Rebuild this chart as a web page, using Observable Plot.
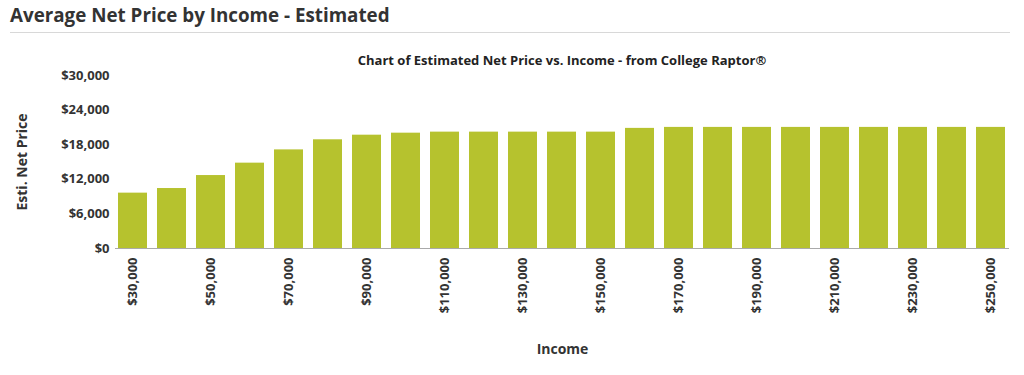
<!DOCTYPE html>
<html>
<head>
<meta charset="utf-8">
<script src="https://cdn.jsdelivr.net/npm/d3@7"></script>
<script src="https://cdn.jsdelivr.net/npm/@observablehq/plot@0.6"></script>
<style>
  html, body { margin: 0; padding: 0; background: #fff; width: 1024px; height: 375px; overflow: hidden; font-family: "Open Sans", sans-serif; }
  #header { position: absolute; left: 10px; top: 2px; font-size: 18.8px; font-weight: bold; color: #333; }
  #rule { position: absolute; left: 10px; top: 32px; width: 1000px; height: 0; border-top: 1px solid #d8d8d8; }
  #subtitle { position: absolute; left: 0; width: 1124px; top: 51px; text-align: center; font-size: 13px; font-weight: bold; color: #222; }
  #chart { position: absolute; left: 0; top: 40px; }
</style>
</head>
<body>
<div id="header">Average Net Price by Income - Estimated</div>
<div id="rule"></div>
<div id="chart"></div>
<div id="subtitle">Chart of Estimated Net Price vs. Income - from College Raptor®</div>
<script>
const incomes = [30000, 40000, 50000, 60000, 70000, 80000, 90000, 100000, 110000, 120000, 130000, 140000, 150000, 160000, 170000, 180000, 190000, 200000, 210000, 220000, 230000, 240000, 250000];
const netPrices = [9600, 10400, 12650, 14800, 17100, 18850, 19650, 20000, 20180, 20180, 20180, 20180, 20180, 20830, 21000, 21000, 21000, 21000, 21000, 21000, 21000, 21000, 21000];
const xTickLabels = [30000, 50000, 70000, 90000, 110000, 130000, 150000, 170000, 190000, 210000, 230000, 250000];
const yTicks = [0, 6000, 12000, 18000, 24000, 30000];
const yTitle = "Esti. Net Price";
const xTitle = "Income";

const data = incomes.map((d, i) => ({income: d, price: netPrices[i]}));
const fmt = d3.format("$,");

const chart = Plot.plot({
  width: 1024,
  height: 335,
  marginTop: 35,
  marginBottom: 127,
  marginLeft: 115,
  marginRight: 15,
  style: {fontFamily: "Open Sans", fontWeight: "bold", fontSize: "13px", color: "#333", background: "transparent"},
  x: {type: "band", domain: incomes, paddingInner: 0.255, paddingOuter: 0.08, label: null},
  y: {domain: [0, 30000], label: null},
  marks: [
    Plot.barY(data, {x: "income", y: "price", fill: "#b6c22e"}),
    Plot.ruleY([0], {stroke: "#aaa"}),
    Plot.axisY({ticks: yTicks, tickFormat: fmt, tickSize: 0, tickPadding: 6, label: null, fontSize: 13}),
    Plot.axisX({ticks: xTickLabels, tickFormat: fmt, tickRotate: -90, tickSize: 0, tickPadding: 9, label: null}),
    Plot.text([yTitle], {frameAnchor: "left", textAnchor: "middle", rotate: -90, dx: -93, fontSize: 14, fontWeight: "bold", fill: "#333"}),
    Plot.text([xTitle], {frameAnchor: "bottom", dy: 105, fontSize: 14, fontWeight: "bold", fill: "#333"})
  ]
});
document.getElementById("chart").appendChild(chart);
</script>
</body>
</html>
